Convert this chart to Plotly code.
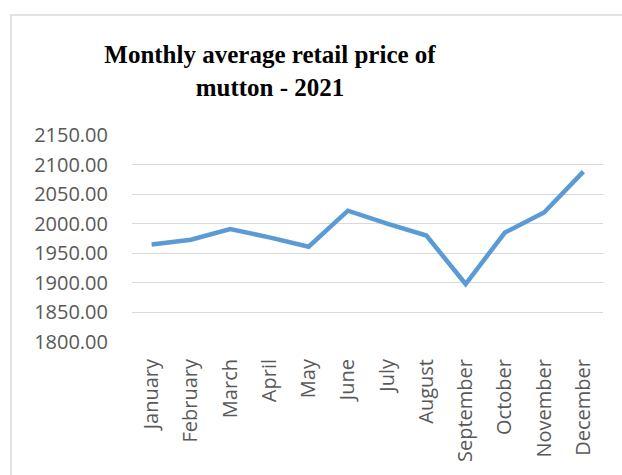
import plotly.graph_objects as go

months = ["January", "February", "March", "April", "May", "June", "July",
          "August", "September", "October", "November", "December"]
prices = [1965, 1973, 1991, 1977, 1961, 2022, 2000, 1980, 1898, 1985, 2019, 2088]
y_ticks = [1800, 1850, 1900, 1950, 2000, 2050, 2100, 2150]
title_text = "Monthly average retail price of<br>mutton - 2021"

fig = go.Figure()
fig.add_trace(go.Scatter(
    x=months, y=prices, mode="lines",
    line=dict(color="#5B9BD5", width=4.5),
    showlegend=False, hoverinfo="skip",
))

fig.update_layout(
    width=622, height=475,
    margin=dict(l=132, r=19, t=135, b=133),
    paper_bgcolor="white", plot_bgcolor="white",
    title=dict(
        text=title_text,
        x=270 / 622, xref="container", xanchor="center",
        y=1 - 63 / 475, yref="container", yanchor="top",
        font=dict(family="Liberation Serif", size=25, color="black", weight="bold"),
    ),
    xaxis=dict(
        tickangle=-90, showgrid=False, showline=False, ticks="",
        range=[-0.5, 11.5], automargin=False,
        tickfont=dict(family="Open Sans", size=20, color="#595959"),
        ticklabelstandoff=12,
    ),
    yaxis=dict(
        range=[1800, 2150], tickvals=y_ticks,
        ticktext=[f"{v:.2f}" for v in y_ticks],
        showgrid=True, gridcolor="#D9D9D9", gridwidth=1,
        zeroline=False, showline=False, ticks="", automargin=False,
        tickfont=dict(family="Open Sans", size=20, color="#595959"),
        ticklabelstandoff=23,
    ),
    shapes=[dict(
        type="rect", xref="paper", yref="paper",
        x0=(11 - 132) / 471, x1=1.2, y0=-1.0, y1=(475 - 15 - 133) / 207,
        line=dict(color="#D9D9D9", width=1.5), fillcolor="rgba(0,0,0,0)",
        layer="below",
    )],
)

fig.write_html(
    "out.html",
    config={"displayModeBar": False},
    post_script="document.body.style.margin='0';document.body.style.overflow='hidden';",
)
